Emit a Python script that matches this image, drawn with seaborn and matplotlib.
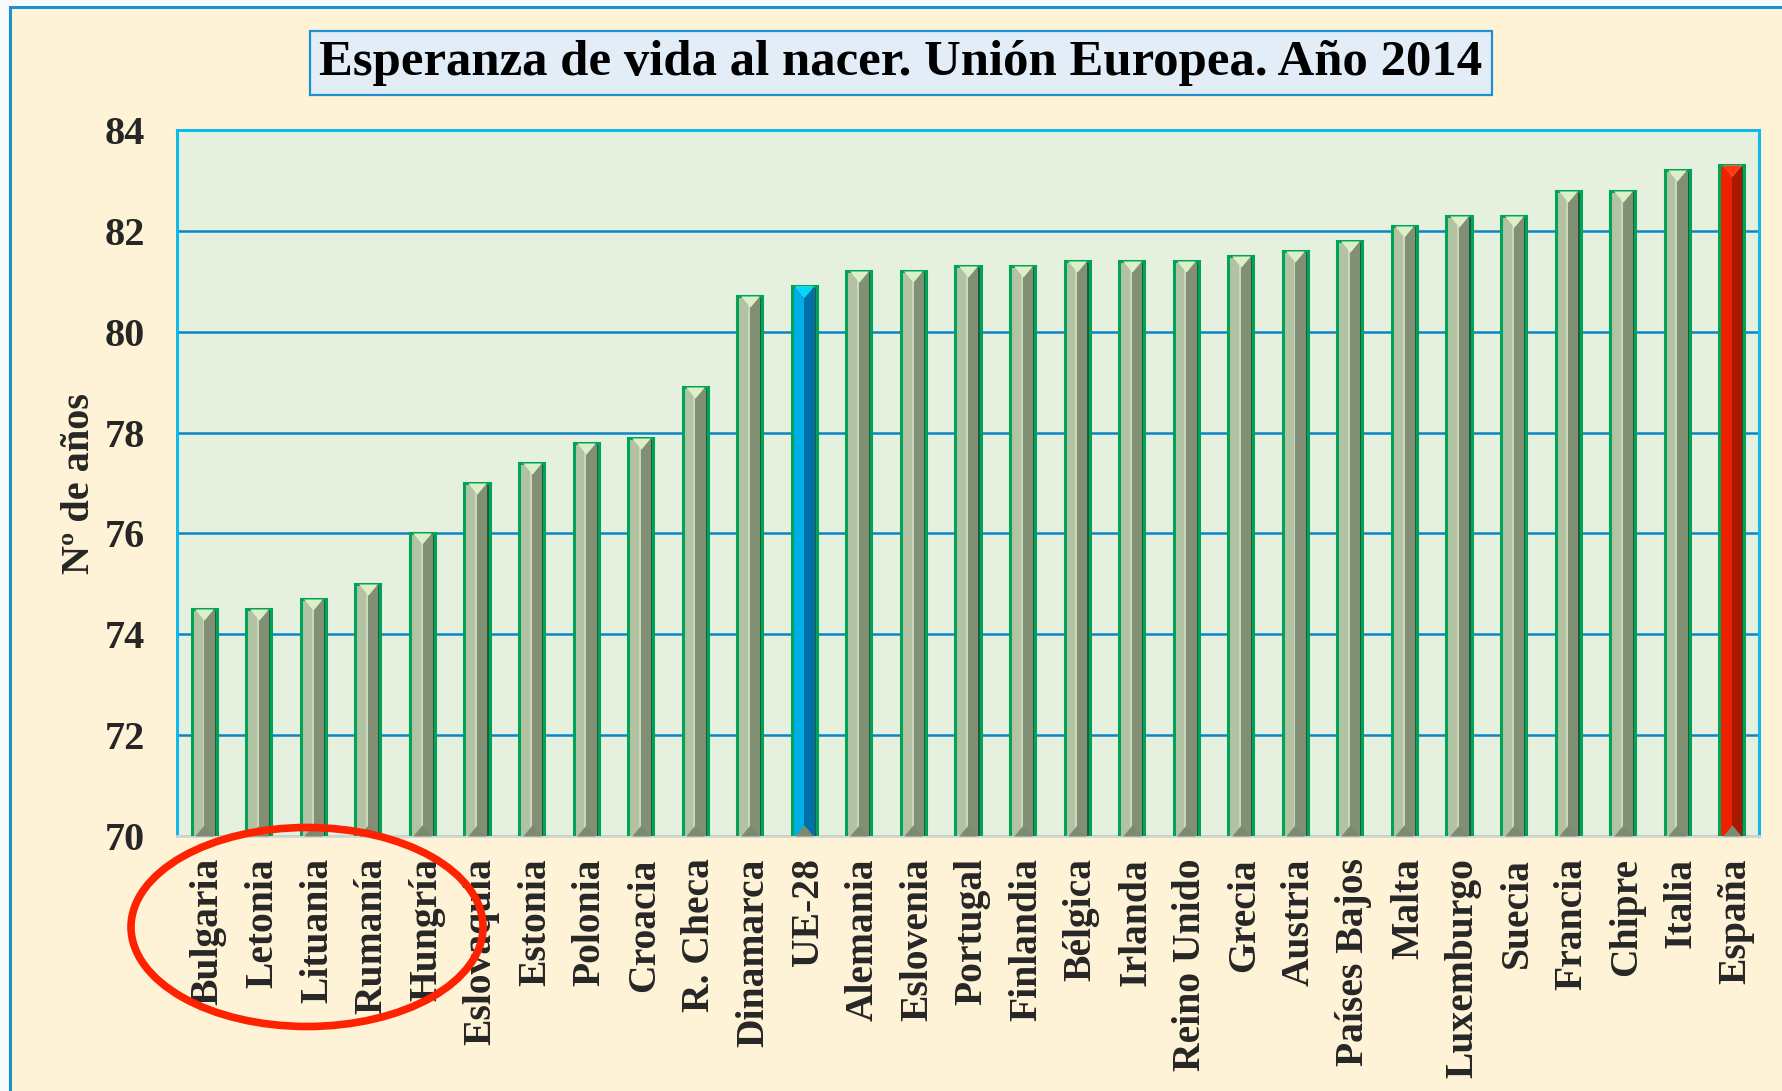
import numpy as np
import matplotlib
matplotlib.use("Agg")
import matplotlib.pyplot as plt
import matplotlib.transforms as mtransforms
import seaborn as sns
from matplotlib.patches import Ellipse, Rectangle

paises = ["Bulgaria", "Letonia", "Lituania", "Rumanía", "Hungría", "Eslovaquia",
          "Estonia", "Polonia", "Croacia", "R. Checa", "Dinamarca", "UE-28",
          "Alemania", "Eslovenia", "Portugal", "Finlandia", "Bélgica", "Irlanda",
          "Reino Unido", "Grecia", "Austria", "Países Bajos", "Malta",
          "Luxemburgo", "Suecia", "Francia", "Chipre", "Italia", "España"]
valores = [74.5, 74.5, 74.7, 75.0, 76.0, 77.0, 77.4, 77.8, 77.9, 78.9, 80.7, 80.9,
           81.2, 81.2, 81.3, 81.3, 81.4, 81.4, 81.4, 81.5, 81.6, 81.8, 82.1,
           82.3, 82.3, 82.8, 82.8, 83.2, 83.3]
yticks = [70, 72, 74, 76, 78, 80, 82, 84]
titulo = "Esperanza de vida al nacer. Unión Europea. Año 2014"
ylabel = "Nº de años"

sns.set_theme(style="white")
plt.rcParams['font.family'] = ['Liberation Serif', 'DejaVu Serif']
plt.rcParams['font.weight'] = 'bold'

light = {"UE-28": "#00AEE6", "España": "#EE2200"}
dark = {"UE-28": "#0070A8", "España": "#A81A00"}
fill_cols = [light.get(p, "#B3C2A3") for p in paises]
dark_cols = [dark.get(p, "#818F75") for p in paises]
top_cols = ["#00D8FF" if p == "UE-28" else "#FF3A10" if p == "España" else "#DCF0C8" for p in paises]

fig = plt.figure(figsize=(17.83, 10.91), dpi=100)
fig.patch.set_facecolor("#F8FBFC")
bg = Rectangle((10/1783, -0.05), 1.2, 1.05 - 7/1091, transform=fig.transFigure,
               facecolor="#FFF3D7", edgecolor="#1E8FD0", linewidth=2.2, zorder=-10)
fig.patches.append(bg)

ax = fig.add_axes([177/1783, 1 - 836/1091, (1759-177)/1783, (836-130)/1091])
ax.set_facecolor("#E6F0DF")

W = 0.46
sns.barplot(x=paises, y=valores, hue=paises, palette=fill_cols, legend=False,
            width=W, saturation=1, edgecolor="none", linewidth=0, ax=ax, zorder=3)
pos = np.arange(len(paises))
# darker right half (bevel)
ax.bar(pos + W/4, valores, width=W/2, color=dark_cols, linewidth=0, zorder=3.2)
# central highlight stripe
ax.bar(pos - 0.015, valores, width=0.035, color=["#C9D7BA" if p not in light else light[p] for p in paises],
       linewidth=0, zorder=3.3)
# dark right edge
ax.bar(pos + W/2 - 0.02, valores, width=0.04, color="#1F5A3C", linewidth=0, zorder=3.4)
# outline
ax.bar(pos, valores, width=W, fill=False, edgecolor="#00A456", linewidth=2.2, zorder=3.5)
# top bevel triangles
ax.plot(pos, valores, linestyle="none", marker=[(-1, 0), (1, 0), (0, -1.2)],
        ms=16, color="#DCF0C8", markeredgewidth=0, zorder=3.6)
for i, p in enumerate(paises):
    if p in light:
        ax.plot([pos[i]], [valores[i]], linestyle="none", marker=[(-1, 0), (1, 0), (0, -1.2)],
                ms=16, color=top_cols[i], markeredgewidth=0, zorder=3.7)
# bottom bevel triangles
ax.plot(pos, [yticks[0]] * len(pos), linestyle="none", marker=[(-1, 0), (1, 0), (0, 1.2)],
        ms=16, color="#7C8A72", markeredgewidth=0, zorder=3.6, clip_on=False)

ax.set_ylim(yticks[0], yticks[-1])
ax.set_xlim(-0.5, len(paises) - 0.5)
ax.set_yticks(yticks)
ax.set_yticklabels([str(t) for t in yticks], fontsize=29, fontweight="bold")
ax.yaxis.grid(True, color="#0A85C8", linewidth=1.8, zorder=1)
ax.set_axisbelow(True)
ax.tick_params(axis="y", length=0, pad=23)
ax.tick_params(axis="x", length=0, pad=16)
ax.set_xticks(pos)
ax.set_xticklabels(paises, rotation=90, fontsize=28.5, fontweight="bold", va="top", ha="center")
shift = mtransforms.ScaledTranslation(4/100, 0, fig.dpi_scale_trans)
for lab in ax.get_xticklabels():
    lab.set_transform(lab.get_transform() + shift)
ax.set_xlabel("")
ax.set_ylabel(ylabel, fontsize=29, fontweight="bold")
ax.yaxis.set_label_coords(-0.05, 0.5)
for s in ["left", "top", "right"]:
    ax.spines[s].set_color("#11B8EC")
    ax.spines[s].set_linewidth(2.2)
ax.spines["bottom"].set_color("#D0D8D0")
ax.spines["bottom"].set_linewidth(2)

fig.text(901/1783, 1 - 63/1091, titulo, ha="center", va="center", fontsize=36.5,
         fontweight="bold", color="black",
         bbox=dict(boxstyle="square,pad=0.18", facecolor="#E3EDF8", edgecolor="#1E8FD0", linewidth=1.6))

ell = Ellipse((307/1783, 1 - 927/1091), 352/1783, 199/1091, transform=fig.transFigure,
              fill=False, edgecolor="#FF2200", linewidth=5.5, zorder=20)
fig.patches.append(ell)

fig.savefig("out.png", dpi=100, facecolor=fig.get_facecolor())
